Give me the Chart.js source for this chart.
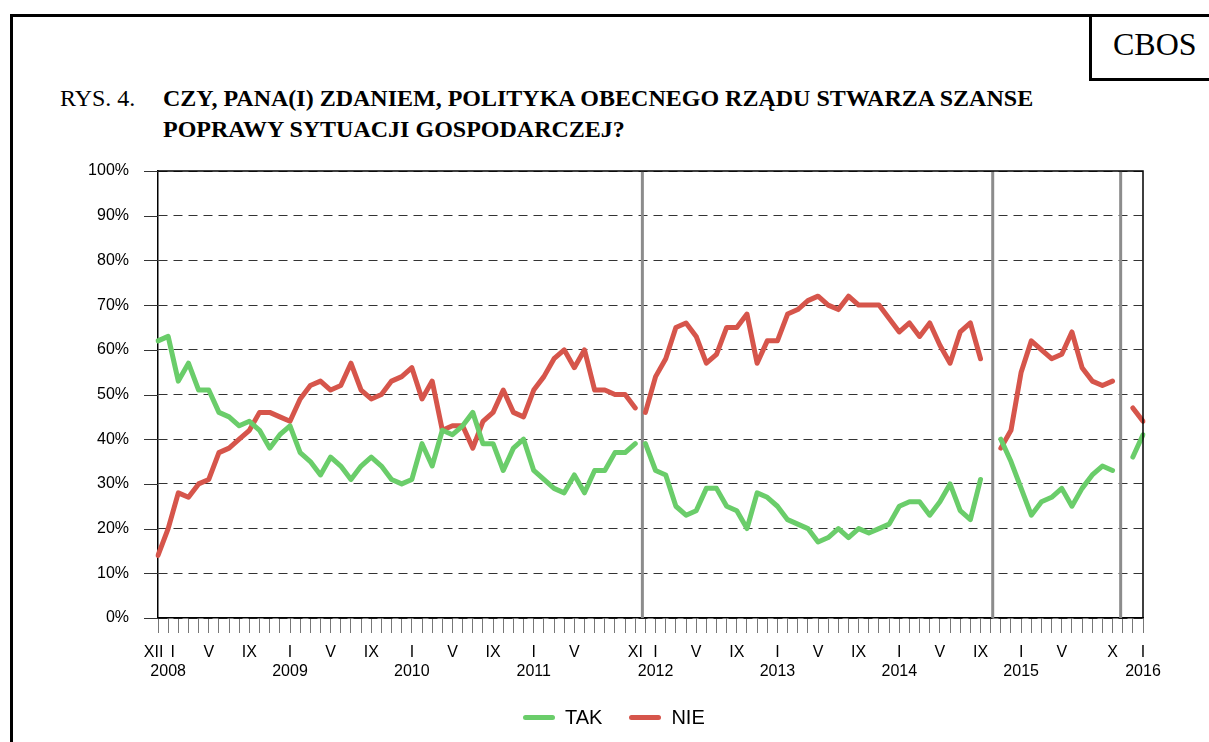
<!DOCTYPE html>
<html>
<head>
<meta charset="utf-8">
<script src="https://cdn.jsdelivr.net/npm/chart.js"></script>
<style>
  body { margin: 0; background: #fff; width: 1209px; height: 742px; overflow: hidden; position: relative; }
  #frame { position: absolute; left: 10px; top: 14px; width: 1230px; height: 760px; border-left: 3px solid #000; border-top: 3px solid #000; }
  #cbos { position: absolute; left: 1089px; top: 14px; width: 140px; height: 64px; border-left: 3px solid #000; border-bottom: 3px solid #000; }
  .t { position: absolute; font-family: "Liberation Serif", serif; color: #000; white-space: nowrap; line-height: 1; }
  #chart { position: absolute; left: 0; top: 0; }
  #legend { position: absolute; top: 706px; left: 523px; font-family: "Liberation Sans", sans-serif; font-size: 20px; line-height: 22px; display: flex; }
  #legend .item { display: flex; align-items: center; margin-right: 27px; }
  #legend .line { width: 32px; height: 5px; border-radius: 3px; margin-right: 10px; }
</style>
</head>
<body>
<div id="frame"></div>
<div id="cbos"></div>
<div class="t" style="left:1113px; top:28px; font-size:32px;">CBOS</div>
<div class="t" style="left:60px; top:86px; font-size:24px;">RYS. 4.</div>
<div class="t" style="left:163px; top:86px; font-size:24px; font-weight:bold;">CZY, PANA(I) ZDANIEM, POLITYKA OBECNEGO RZĄDU STWARZA SZANSE</div>
<div class="t" style="left:163px; top:117px; font-size:24px; font-weight:bold;">POPRAWY SYTUACJI GOSPODARCZEJ?</div>
<canvas id="chart" width="1209" height="742"></canvas>
<div id="legend"></div>
<script>
// months XII 2007 .. I 2016, one point per month (null = no survey)
var tak = [62, 63, 53, 57, 51, 51, 46, 45, 43, 44, 42, 38, 41, 43, 37, 35, 32, 36, 34, 31,
  34, 36, 34, 31, 30, 31, 39, 34, 42, 41, 43, 46, 39, 39, 33, 38, 40, 33, 31, 29,
  28, 32, 28, 33, 33, 37, 37, 39, 39, 33, 32, 25, 23, 24, 29, 29, 25, 24, 20, 28,
  27, 25, 22, 21, 20, 17, 18, 20, 18, 20, 19, 20, 21, 25, 26, 26, 23, 26, 30, 24,
  22, 31, null, 40, 35, 29, 23, 26, 27, 29, 25, 29, 32, 34, 33, null, 36, 41];
var nie = [14, 20, 28, 27, 30, 31, 37, 38, 40, 42, 46, 46, 45, 44, 49, 52, 53, 51, 52, 57,
  51, 49, 50, 53, 54, 56, 49, 53, 42, 43, 43, 38, 44, 46, 51, 46, 45, 51, 54, 58,
  60, 56, 60, 51, 51, 50, 50, 47, 46, 54, 58, 65, 66, 63, 57, 59, 65, 65, 68, 57,
  62, 62, 68, 69, 71, 72, 70, 69, 72, 70, 70, 70, 67, 64, 66, 63, 66, 61, 57, 64,
  66, 58, null, 38, 42, 55, 62, 60, 58, 59, 64, 56, 53, 52, 53, null, 47, 44];

// tick labels
var monthIdx = [0, 1, 5, 9, 13, 17, 21, 25, 29, 33, 37, 41, 47, 49, 53, 57, 61, 65, 69, 73, 77, 81, 85, 89, 94, 97];
var monthTxt = ['XII  ', '  I', 'V', 'IX', 'I', 'V', 'IX', 'I', 'V', 'IX', 'I', 'V', 'XI', 'I', 'V', 'IX', 'I', 'V', 'IX', 'I', 'V', 'IX', 'I', 'V', 'X', 'I'];
var yearIdx = [1, 13, 25, 37, 49, 61, 73, 85, 97];
var yearTxt = ['2008', '2009', '2010', '2011', '2012', '2013', '2014', '2015', '2016'];

// changes of government (vertical lines, in month positions) and line breaks
var govLines = [47.7, 82.2, 94.8];
var breakAfter = [47];

var labels = tak.map(function (v, i) {
  var m = monthIdx.indexOf(i), y = yearIdx.indexOf(i);
  var a = [m >= 0 ? monthTxt[m] : ''];
  if (y >= 0) a.push(yearTxt[y]);
  return a;
});

var hideBreak = function (c) { return breakAfter.indexOf(c.p0DataIndex) >= 0 ? 'rgba(0,0,0,0)' : undefined; };

var framePlugin = {
  id: 'frame',
  beforeDatasetsDraw: function (chart) {
    var ctx = chart.ctx, a = chart.chartArea, x = chart.scales.x;
    ctx.save();
    ctx.strokeStyle = '#8c8c8c';
    ctx.lineWidth = 3;
    govLines.forEach(function (v) {
      var px = x.getPixelForValue(v);
      ctx.beginPath(); ctx.moveTo(px, a.top); ctx.lineTo(px, a.bottom); ctx.stroke();
    });
    ctx.restore();
  },
  afterDraw: function (chart) {
    var ctx = chart.ctx, a = chart.chartArea, y = chart.scales.y;
    ctx.save();
    ctx.strokeStyle = '#000';
    ctx.lineWidth = 1.5;
    ctx.beginPath();
    ctx.moveTo(a.left, a.top); ctx.lineTo(a.right, a.top); ctx.lineTo(a.right, a.bottom);
    ctx.stroke();
    ctx.lineWidth = 1;
    ctx.strokeStyle = '#333';
    y.ticks.forEach(function (t) {
      var py = Math.round(y.getPixelForValue(t.value)) + 0.5;
      ctx.beginPath(); ctx.moveTo(a.left - 14, py); ctx.lineTo(a.left, py); ctx.stroke();
    });
    ctx.restore();
  }
};

var font = { family: 'Liberation Sans', size: 16 };

var chart = new Chart(document.getElementById('chart'), {
  type: 'line',
  data: {
    labels: labels,
    datasets: [{
      label: 'TAK',
      data: tak,
      borderColor: '#6acd6a',
      backgroundColor: '#6acd6a',
      borderWidth: 5,
      pointRadius: 0,
      tension: 0,
      borderJoinStyle: 'round',
      borderCapStyle: 'round',
      segment: { borderColor: hideBreak }
    }, {
      label: 'NIE',
      data: nie,
      borderColor: '#d6554b',
      backgroundColor: '#d6554b',
      borderWidth: 5,
      pointRadius: 0,
      tension: 0,
      borderJoinStyle: 'round',
      borderCapStyle: 'round',
      segment: { borderColor: hideBreak }
    }]
  },
  options: {
    responsive: false,
    animation: false,
    layout: { padding: { left: 0, right: 66, top: 171, bottom: 60 } },
    plugins: { legend: { display: false }, tooltip: { enabled: false } },
    scales: {
      x: {
        offset: false,
        grid: { drawOnChartArea: false, tickLength: 15, color: '#777', lineWidth: 1 },
        border: { color: '#000', width: 1.5 },
        ticks: { autoSkip: false, maxRotation: 0, minRotation: 0, padding: 10, color: '#000', font: font },
        afterFit: function (s) { s.height = 64; }
      },
      y: {
        min: 0,
        max: 100,
        grid: { color: '#333', lineWidth: 1, drawTicks: false },
        border: { color: '#000', width: 1.5, dash: [9, 6] },
        ticks: { stepSize: 10, padding: 29, color: '#000', font: font, callback: function (v) { return v + '%'; } },
        afterFit: function (s) { s.width = 158; }
      }
    }
  },
  plugins: [framePlugin]
});

// legend built from the datasets
var leg = document.getElementById('legend');
chart.data.datasets.forEach(function (ds) {
  var it = document.createElement('div');
  it.className = 'item';
  var ln = document.createElement('span');
  ln.className = 'line';
  ln.style.background = ds.borderColor;
  it.appendChild(ln);
  it.appendChild(document.createTextNode(ds.label));
  leg.appendChild(it);
});
</script>
</body>
</html>
